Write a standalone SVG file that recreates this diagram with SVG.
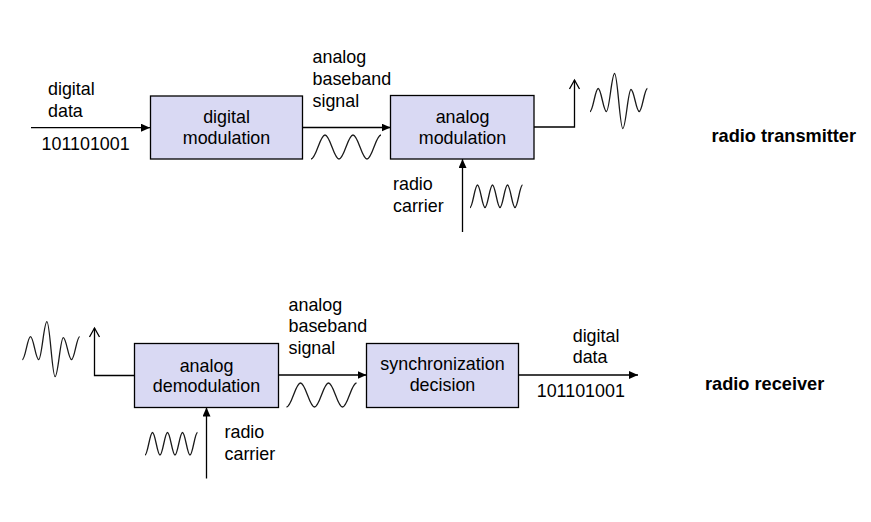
<svg xmlns="http://www.w3.org/2000/svg" xmlns:xlink="http://www.w3.org/1999/xlink" width="871" height="522" viewBox="0 0 871 522">
<style>
text{font-family:"Liberation Sans",Arial,sans-serif;font-size:17.9px;fill:#000}
.c{text-anchor:middle}
.t{font-weight:bold;font-size:18.2px}
.box{fill:#d9d9f3;stroke:#000;stroke-width:1.3}
.ln{fill:none;stroke:#000;stroke-width:1.3}
.wv{fill:none;stroke:#1a1a1a;stroke-width:1.3}
</style>
<defs>
<marker id="af" viewBox="0 0 9 8" refX="9" refY="4" markerWidth="9" markerHeight="8" markerUnits="userSpaceOnUse" orient="auto">
<path d="M0,0 L9,4 L0,8 z" fill="#000"/>
</marker>
<marker id="ao" viewBox="-1 -1 11 12" refX="9" refY="5" markerWidth="11" markerHeight="12" markerUnits="userSpaceOnUse" orient="auto" overflow="visible">
<path d="M0,0 L9,5 L0,10" fill="none" stroke="#000" stroke-width="1.3"/>
</marker>
<path id="base" class="wv" d="M0,24 C5.1,24 8.9,0 14,0 C19.1,0 22.9,24 28,24 C33.1,24 36.9,0 42,0 C47.1,0 50.9,24 56,24 C61.1,24 64.9,0 70,0"/>
<path id="carr" class="wv" d="M0,22.5 C2.73,22.5 4.77,0 7.5,0 C10.23,0 12.27,22.5 15,22.5 C17.73,22.5 19.77,0 22.5,0 C25.23,0 27.27,22.5 30,22.5 C32.73,22.5 34.77,0 37.5,0 C40.23,0 42.27,22.5 45,22.5 C47.73,22.5 49.770,0 52.5,0"/>
<path id="modw" class="wv" d="M0,38 C2.98,38 5.22,15 8.2,15 C11.18,15 13.42,38 16.4,38 C19.38,38 21.62,0 24.6,0 C27.58,0 29.82,55 32.8,55 C35.78,55 38.02,16 41,16 C43.98,16 46.22,38 49.2,38 C52.18,38 54.42,15 57.4,15"/>
</defs>

<g id="connectors">
<line class="ln" x1="31" y1="127.7" x2="150" y2="127.7" marker-end="url(#af)"/>
<line class="ln" x1="302" y1="127.5" x2="390.5" y2="127.5" marker-end="url(#af)"/>
<polyline class="ln" points="534,127 574.5,127 574.5,80" marker-end="url(#ao)"/>
<line class="ln" x1="462.5" y1="232" x2="462.5" y2="159" marker-end="url(#af)"/>
<polyline class="ln" points="134.5,375.5 94.5,375.5 94.5,328" marker-end="url(#ao)"/>
<line class="ln" x1="278.5" y1="375" x2="366.5" y2="375" marker-end="url(#af)"/>
<line class="ln" x1="518.5" y1="375" x2="638" y2="375" marker-end="url(#af)"/>
<line class="ln" x1="206.5" y1="478.5" x2="206.5" y2="407.5" marker-end="url(#af)"/>
</g>

<g id="waves">
<use xlink:href="#base" href="#base" x="311" y="135"/>
<use xlink:href="#base" href="#base" x="286.5" y="383"/>
<use xlink:href="#carr" href="#carr" x="470" y="185"/>
<use xlink:href="#carr" href="#carr" x="145" y="432.5"/>
<use xlink:href="#modw" href="#modw" x="590" y="73.5"/>
<use xlink:href="#modw" href="#modw" x="22.3" y="321.7"/>
</g>

<g id="digital-modulation">
<rect class="box" x="150.5" y="96" width="152" height="63"/>
<text class="c" x="226.5" y="123">digital</text>
<text class="c" x="226.5" y="143.5">modulation</text>
</g>
<g id="analog-modulation">
<rect class="box" x="390.5" y="95.5" width="143.5" height="63.5"/>
<text class="c" x="462.5" y="123">analog</text>
<text class="c" x="462.5" y="144">modulation</text>
</g>
<g id="analog-demodulation">
<rect class="box" x="134.5" y="343.5" width="144" height="64"/>
<text class="c" x="206.5" y="371.7">analog</text>
<text class="c" x="206.5" y="392">demodulation</text>
</g>
<g id="synchronization-decision">
<rect class="box" x="366.5" y="343.5" width="152" height="64"/>
<text class="c" x="442.5" y="370">synchronization</text>
<text class="c" x="442.5" y="391">decision</text>
</g>

<g id="labels">
<text x="48" y="95">digital</text>
<text x="48" y="116.5">data</text>
<text x="41.5" y="150">101101001</text>
<text x="312.5" y="63">analog</text>
<text x="312.5" y="85">baseband</text>
<text x="312.5" y="106.5">signal</text>
<text x="393" y="189.5">radio</text>
<text x="393" y="211.5">carrier</text>
<text class="t" x="711.5" y="142">radio transmitter</text>
<text x="288.5" y="310.7">analog</text>
<text x="288.5" y="332">baseband</text>
<text x="288.5" y="353.5">signal</text>
<text x="224.5" y="437.7">radio</text>
<text x="224.5" y="459.5">carrier</text>
<text x="572.7" y="341.7">digital</text>
<text x="572.7" y="363.3">data</text>
<text x="536.7" y="396.7">101101001</text>
<text class="t" x="705" y="389.5">radio receiver</text>
</g>
</svg>
